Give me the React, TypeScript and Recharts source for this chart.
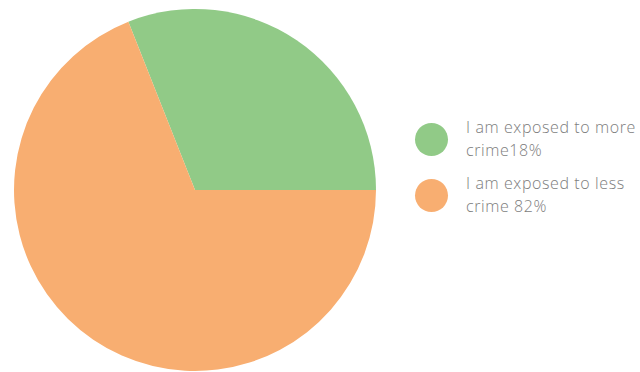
import { PieChart, Pie, Cell, Legend } from "recharts";

const labels = ["I am exposed to more crime18%", "I am exposed to less crime 82%"];
const legendLines = [
  ["I am exposed to more", "crime18%"],
  ["I am exposed to less", "crime 82%"],
];
const values = [31, 69];
const colors = ["#91CA87", "#F8AE71"];

const data = labels.map((name, i) => ({ name, value: values[i] }));

function CustomLegend() {
  return (
    <div style={{ fontFamily: "'Open Sans', sans-serif", fontWeight: 300 }}>
      {legendLines.map((lines, i) => (
        <div key={i} style={{ display: "flex", alignItems: "center", marginBottom: 10 }}>
          <div
            style={{
              width: 33,
              height: 33,
              borderRadius: "50%",
              background: colors[i],
              marginRight: 18,
              flexShrink: 0,
            }}
          />
          <div style={{ color: "#7d7d7d", fontSize: 16, lineHeight: "23px", letterSpacing: 0.6 }}>
            {lines.map((l, j) => (
              <div key={j}>{l}</div>
            ))}
          </div>
        </div>
      ))}
    </div>
  );
}

export default function App() {
  return (
    <div style={{ position: "absolute", left: 0, top: 0, width: 640, height: 372, background: "#fff" }}>
      <PieChart width={640} height={372} margin={{ top: 0, right: 0, bottom: 0, left: 0 }}>
        <Pie
          data={data}
          dataKey="value"
          nameKey="name"
          cx={195}
          cy={190}
          outerRadius={181}
          startAngle={0}
          endAngle={360}
          stroke="none"
          isAnimationActive={false}
        >
          {data.map((d, i) => (
            <Cell key={d.name} fill={colors[i]} />
          ))}
        </Pie>
        <Legend
          content={<CustomLegend />}
          wrapperStyle={{ left: 415, top: 116, width: 225 }}
        />
      </PieChart>
    </div>
  );
}
